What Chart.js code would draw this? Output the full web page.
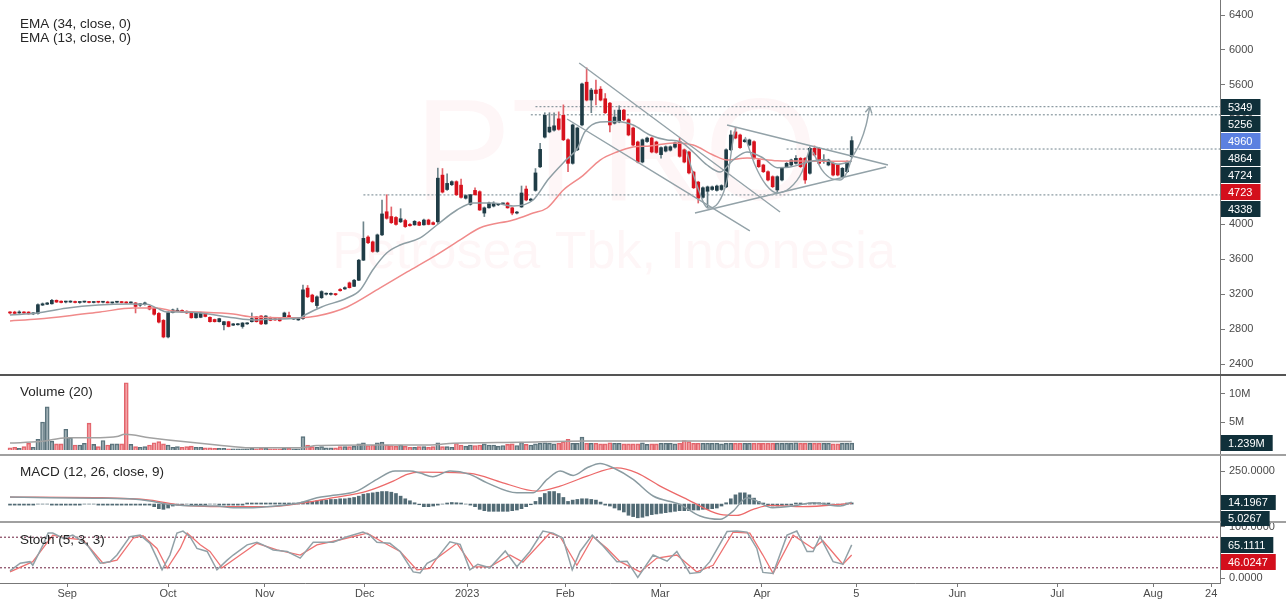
<!DOCTYPE html>
<html>
<head>
<meta charset="utf-8">
<title>PTRO - Petrosea Tbk</title>
<script src="https://cdn.jsdelivr.net/npm/chart.js@4.4.1/dist/chart.umd.min.js"></script>
<style>
    html, body { margin: 0; padding: 0; background: #fff; }
    #chart { display: block; }
</style>
</head>
<body>
<canvas id="chart" width="1286" height="600"></canvas>
<script>
// daily candles, index 0 = mid Aug 2022, index 181 = early May 2023
const opens = [
    2990, 2995, 2985, 2990, 2995, 2975, 2980, 3075, 3085, 3090,
    3130, 3120, 3110, 3110, 3115, 3105, 3110, 3112, 3105, 3110,
    3108, 3110, 3100, 3108, 3110, 3108, 3100, 3100, 3075, 3080,
    3060, 3040, 2980, 2900, 2710, 2990, 3005, 3015, 3005, 2985,
    2930, 2935, 2985, 2935, 2910, 2885, 2850, 2885, 2845, 2850,
    2830, 2860, 2885, 2940, 2950, 2860, 2935, 2920, 2920, 2930,
    2955, 2915, 2905, 2920, 3270, 3190, 3070, 3160, 3200, 3198,
    3200, 3255, 3260, 3330, 3290, 3360, 3590, 3855, 3800, 3690,
    3880, 4145, 4090, 4080, 4030, 4045, 4000, 3995, 4025, 3995,
    4050, 4020, 4030, 4565, 4400, 4455, 4490, 4450, 4300, 4230,
    4390, 4375, 4130, 4190, 4210, 4225, 4235, 4245, 4190, 4130,
    4200, 4405, 4275, 4390, 4660, 5000, 5060, 5080, 5210, 5250,
    4970, 4700, 4855, 5140, 5630, 5425, 5540, 5550, 5440, 5390,
    5160, 5175, 5310, 5200, 5105, 4945, 4715, 4950, 4990, 4945,
    4800, 4840, 4850, 4885, 4950, 4855, 4830, 4600, 4485, 4310,
    4380, 4400, 4390, 4400, 4430, 4855, 5060, 5025, 4948, 4910,
    4948, 4738, 4681, 4604, 4547, 4395, 4509, 4662, 4681, 4700,
    4757, 4757, 4586, 4872, 4872, 4719, 4681, 4700, 4681, 4547,
    4604, 4776
];
const highs = [
    3000, 3005, 3010, 3000, 3000, 2990, 3090, 3100, 3105, 3140,
    3135, 3125, 3120, 3125, 3120, 3115, 3120, 3118, 3115, 3115,
    3115, 3120, 3110, 3115, 3118, 3115, 3112, 3105, 3095, 3110,
    3070, 3045, 2990, 2910, 3000, 3030, 3040, 3020, 3010, 2990,
    2990, 2995, 2990, 2940, 2915, 2925, 2890, 2890, 2865, 2865,
    2875, 2875, 2985, 2945, 2955, 2955, 2940, 2925, 2925, 2995,
    2995, 2930, 2925, 3306, 3300, 3200, 3180, 3240, 3215, 3215,
    3210, 3265, 3285, 3340, 3370, 3600, 4030, 3870, 3810, 3890,
    4280, 4340, 4200, 4090, 4180, 4060, 4010, 4045, 4035, 4060,
    4060, 4030, 4645, 4640, 4580, 4500, 4500, 4520, 4340, 4345,
    4420, 4385, 4200, 4255, 4260, 4240, 4245, 4255, 4195, 4150,
    4440, 4440, 4300, 4640, 4930, 5280, 5280, 5280, 5290, 5370,
    4980, 5150, 5115, 5620, 5795, 5560, 5655, 5580, 5500, 5400,
    5310, 5360, 5320, 5210, 5115, 4955, 4980, 5000, 5000, 4955,
    4890, 4900, 4900, 4945, 4990, 4865, 4840, 4610, 4495, 4430,
    4440, 4440, 4450, 4455, 4865, 5075, 5110, 5035, 4980, 4978,
    4958, 4748, 4690, 4614, 4557, 4557, 4653, 4710, 4748, 4790,
    4767, 4767, 4890, 4900, 4882, 4800, 4748, 4710, 4691, 4653,
    4729, 5006
];
const lows = [
    2975, 2975, 2980, 2980, 2970, 2965, 2970, 3070, 3080, 3085,
    3105, 3100, 3100, 3105, 3100, 3095, 3105, 3100, 3100, 3100,
    3100, 3100, 3095, 3100, 3100, 3095, 3095, 2985, 3060, 3075,
    3020, 2960, 2870, 2700, 2700, 2985, 3000, 2990, 2980, 2925,
    2925, 2930, 2940, 2880, 2880, 2880, 2790, 2825, 2840, 2845,
    2810, 2855, 2880, 2880, 2850, 2855, 2895, 2900, 2890, 2925,
    2925, 2910, 2900, 2910, 3160, 3105, 3040, 3150, 3190, 3190,
    3185, 3235, 3255, 3270, 3285, 3355, 3585, 3780, 3680, 3680,
    3870, 4060, 4010, 3990, 4020, 3965, 3980, 3990, 3985, 3990,
    3995, 3995, 4010, 4360, 4390, 4445, 4330, 4300, 4290, 4220,
    4335, 4160, 4090, 4185, 4200, 4215, 4225, 4185, 4110, 4120,
    4195, 4270, 4265, 4380, 4650, 4990, 5050, 5070, 5080, 4960,
    4605, 4690, 4845, 5130, 5415, 5280, 5370, 5415, 5270, 5060,
    5150, 5165, 5190, 5015, 4900, 4705, 4705, 4940, 4820, 4815,
    4760, 4830, 4840, 4875, 4770, 4705, 4580, 4410, 4245, 4300,
    4190, 4390, 4380, 4390, 4420, 4845, 4980, 4870, 4940, 4900,
    4748, 4652, 4594, 4499, 4422, 4360, 4499, 4652, 4671, 4690,
    4652, 4470, 4576, 4786, 4690, 4700, 4671, 4556, 4556, 4537,
    4594, 4760
];
const closes = [
    2985, 2980, 2990, 2985, 2975, 2980, 3080, 3090, 3100, 3130,
    3110, 3105, 3112, 3115, 3105, 3110, 3112, 3105, 3110, 3108,
    3112, 3100, 3108, 3110, 3104, 3100, 3105, 3060, 3090, 3100,
    3030, 2970, 2880, 2710, 2990, 3020, 3015, 2995, 2985, 2930,
    2985, 2990, 2945, 2885, 2885, 2920, 2885, 2830, 2860, 2860,
    2870, 2870, 2920, 2885, 2860, 2950, 2900, 2905, 2895, 2985,
    2930, 2925, 2920, 3250, 3170, 3115, 3170, 3230, 3205, 3202,
    3195, 3240, 3275, 3275, 3360, 3590, 3840, 3790, 3690, 3880,
    4120, 4070, 4020, 4000, 4065, 3975, 3985, 4035, 3990, 4050,
    4000, 4000, 4530, 4370, 4470, 4490, 4340, 4310, 4330, 4340,
    4340, 4165, 4190, 4245, 4240, 4230, 4238, 4190, 4130, 4140,
    4360, 4280, 4290, 4590, 4860, 5250, 5115, 5130, 5090, 4970,
    4700, 5140, 5105, 5610, 5425, 5540, 5500, 5425, 5280, 5140,
    5230, 5310, 5200, 5025, 4910, 4715, 4970, 4990, 4830, 4825,
    4880, 4890, 4890, 4935, 4780, 4715, 4590, 4420, 4300, 4420,
    4430, 4430, 4440, 4445, 4855, 5025, 4990, 4880, 4968, 4968,
    4758, 4662, 4604, 4509, 4432, 4547, 4643, 4700, 4738, 4757,
    4662, 4509, 4872, 4796, 4700, 4738, 4738, 4566, 4566, 4643,
    4719, 4960
];
// volume in millions of shares
const volumesM = [
    0.4, 0.5, 0.3, 0.6, 1.2, 0.5, 1.9, 5.0, 7.7, 1.6,
    1.1, 1.1, 3.7, 2.2, 0.9, 0.9, 1.2, 4.8, 1.0, 0.6,
    1.7, 0.9, 1.1, 1.1, 1.1, 12.0, 1.0, 0.6, 0.5, 0.6,
    0.9, 1.3, 1.5, 1.1, 0.9, 0.5, 0.6, 0.5, 0.6, 0.7,
    0.5, 0.5, 0.4, 0.4, 0.3, 0.3, 0.3, 0.2, 0.2, 0.2,
    0.2, 0.2, 0.3, 0.2, 0.3, 0.3, 0.2, 0.2, 0.2, 0.3,
    0.3, 0.2, 0.2, 2.4, 0.9, 0.6, 0.5, 0.6, 0.4, 0.4,
    0.4, 0.6, 0.6, 0.6, 0.7, 1.1, 1.3, 0.8, 0.9, 1.3,
    1.4, 0.9, 0.8, 0.7, 0.9, 0.7, 0.5, 0.5, 0.6, 0.6,
    0.5, 0.6, 1.3, 0.6, 0.6, 0.5, 1.2, 0.9, 0.7, 0.9,
    0.8, 0.9, 1.1, 0.9, 0.9, 0.7, 0.8, 1.0, 1.1, 0.8,
    1.4, 1.0, 0.9, 1.1, 1.2, 1.3, 1.2, 1.1, 1.2, 1.5,
    1.9, 1.2, 1.2, 2.3, 1.2, 1.2, 1.2, 1.1, 1.1, 1.3,
    1.2, 1.2, 1.1, 1.1, 1.1, 1.1, 1.3, 1.0, 1.1, 1.1,
    1.2, 1.2, 1.2, 1.1, 1.2, 1.7, 1.5, 1.2, 1.2, 1.2,
    1.2, 1.2, 1.2, 1.1, 1.2, 1.2, 1.2, 1.2, 1.2, 1.2,
    1.2, 1.2, 1.2, 1.2, 1.2, 1.2, 1.2, 1.2, 1.2, 1.3,
    1.2, 1.2, 1.2, 1.2, 1.2, 1.2, 1.2, 1.1, 1.1, 1.2,
    1.2, 1.24
];
const macdHist = [
    -8, -8, -8, -8, -8, -8, 0, 0, 0, -8,
    -8, -8, -8, -8, -8, -8, 0, 0, 0, -8,
    -8, -8, -8, -8, -8, -8, -8, -8, -8, -8,
    -8, -20, -35, -40, -30, -15, -8, -8, 0, -8,
    -8, -8, -8, 0, 0, -8, -8, -8, -8, -8,
    -8, 8, 8, 8, 8, 8, 8, 8, 8, 8,
    8, 8, 8, 15, 20, 20, 25, 30, 30, 35,
    35, 40, 40, 45, 50, 60, 75, 80, 85, 90,
    95, 95, 90, 80, 60, 40, 25, 10, -5, -20,
    -20, -15, -8, 0, 8, 12, 10, 8, 0, -8,
    -20, -40, -50, -55, -55, -55, -55, -55, -50, -45,
    -35, -20, -5, 20, 50, 80, 95, 95, 80, 50,
    20, 30, 35, 40, 40, 35, 30, 15, -8, -15,
    -30, -45, -60, -85, -95, -104, -100, -90, -80, -75,
    -70, -65, -60, -55, -50, -50, -50, -45, -45, -40,
    -40, -35, -30, -15, 10, 40, 70, 85, 85, 70,
    45, 20, 8, -8, -15, -15, -10, -8, -8, 8,
    8, 0, 8, 10, 10, 8, 8, 0, -8, 0,
    8, 9
];

// indicator lines, read at (bar index, value)
const ema13Idx = [0, 6, 12, 19, 26, 29.5, 31.6, 33.8, 36, 41, 48, 52.3, 55.3, 62.4, 63.4, 67, 72.5, 75.3, 78, 81, 83.9, 88.2, 91.8, 96.1, 99.6, 103.9, 108.2, 112.5, 115.8, 119.6, 122, 123.6, 126.9, 130.5, 134, 137.6, 141.3, 144, 146.9, 149.9, 152.7, 155.5, 158.5, 162, 165, 168, 172, 175, 178, 181];
const ema13Val = [2962, 2985, 3040, 3077, 3088, 3085, 3040, 2995, 2995, 2985, 2930, 2905, 2912, 2930, 2962, 3054, 3157, 3249, 3478, 3673, 3764, 3845, 3993, 4165, 4245, 4245, 4211, 4280, 4520, 4740, 4870, 5060, 5174, 5180, 5139, 5025, 4968, 4950, 4830, 4681, 4601, 4738, 4830, 4760, 4650, 4660, 4720, 4740, 4690, 4723];
const ema34Idx = [0, 6, 12.3, 19.4, 26.5, 31.6, 35, 41, 48, 52.3, 62.4, 66, 72.5, 79.6, 85.4, 91, 96.8, 101, 108.2, 112.5, 115.5, 119, 123.2, 126.9, 130.5, 134, 137.6, 142.6, 146.9, 151.2, 154.2, 158.5, 165, 172, 181];
const ema34Val = [2893, 2916, 2950, 2996, 3042, 3042, 3008, 2996, 2973, 2939, 2930, 2950, 3054, 3272, 3455, 3627, 3822, 3959, 4051, 4130, 4188, 4395, 4560, 4738, 4830, 4887, 4899, 4933, 4910, 4796, 4738, 4760, 4730, 4725, 4724];
const volMaIdx = [0, 6.5, 12.3, 19.4, 23, 24.7, 30, 37.2, 44.5, 51.6, 62.4, 66, 76.8, 90.3, 95.3, 109.7, 124, 145.6, 181];
const volMaVal = [1.24, 1.5, 2.2, 2.2, 2.4, 2.8, 2.2, 1.5, 0.9, 0.4, 0.4, 0.8, 0.9, 0.9, 1.2, 1.4, 1.6, 1.6, 1.5];
const macdIdx = [0, 8.6, 19.4, 26.5, 30.1, 33.8, 37.2, 44.5, 48, 51.6, 55.3, 62.4, 66, 69.5, 74.6, 78.9, 82.8, 86, 88.2, 90.9, 94.6, 98.9, 102.6, 109, 112.5, 115.5, 118.3, 121.1, 124.1, 126.9, 129.7, 134, 138.3, 144, 148.4, 152.7, 155.5, 158.5, 159.8, 164, 168.4, 172.7, 178.5, 181];
const macdVal = [53, 48, 45, 38, 23, -2, -10, -15, -28, -28, -20, 10, 48, 66, 98, 187, 250, 250, 235, 207, 250, 225, 161, 86, 86, 187, 250, 217, 275, 308, 275, 187, 61, -2, -91, -116, -53, 48, 36, -28, -15, 10, -15, 14];
const signalIdx = [0, 19.4, 30.1, 37.2, 48, 55.3, 62.4, 69.5, 76.8, 82.4, 85.4, 88.2, 98.9, 106, 113.3, 118.3, 124.1, 130.5, 134.8, 139.8, 145.6, 152.7, 156.3, 159.8, 163.4, 170.5, 181];
const signalVal = [53, 48, 30, -10, -20, -20, 5, 48, 98, 174, 225, 242, 232, 161, 98, 136, 212, 275, 237, 136, 36, -78, -86, -40, -10, -20, 5];
const stochKIdx = [0, 2.2, 4.3, 4.9, 7.1, 8.2, 9.2, 11.4, 13.5, 16.6, 19.4, 21.5, 23, 25.8, 28, 30.1, 31.6, 32.7, 34.4, 35.9, 37.2, 38.7, 40.2, 42.4, 44.5, 46.7, 48, 51, 53.1, 54.4, 56.6, 59.6, 62.4, 65.2, 69.5, 72.5, 75.9, 77.4, 78.9, 81.7, 83.9, 86.7, 88.2, 89.7, 91.8, 94.6, 96.8, 98.9, 100.6, 103.2, 106.5, 109, 111.8, 114.6, 116.8, 118.9, 120.9, 122.6, 125.2, 127.3, 130.5, 132.7, 135, 138.3, 141.3, 143.4, 146.2, 148.4, 150.5, 154.2, 156.3, 158.5, 160.6, 161.9, 164.1, 167.1, 169.2, 171.4, 172.7, 174.2, 177, 179.1, 181];
const stochK = [14, 29, 32, 25, 65, 88, 88, 78, 84, 65, 29, 32, 45, 81, 84, 68, 39, 16, 45, 88, 92, 81, 58, 52, 16, 35, 45, 65, 70, 65, 55, 52, 39, 70, 70, 81, 90, 84, 70, 68, 52, 12, 10, 29, 39, 71, 66, 16, 27, 20, 53, 22, 52, 92, 88, 78, 16, 52, 84, 65, 32, 33, 1, 45, 33, 52, 9, 11, 32, 91, 92, 90, 58, 11, 9, 84, 92, 52, 52, 81, 32, 27, 65];
const stochDIdx = [0, 4.9, 9.2, 12.3, 15.7, 20, 23, 26.5, 28.6, 31.6, 33.8, 36.6, 38.1, 40.9, 43, 45.6, 49.5, 53.1, 57.4, 62.4, 66, 71, 76.8, 80.2, 83.9, 87.5, 90.3, 91.8, 96.1, 99.6, 103.2, 107.5, 110.3, 116.1, 118.3, 121.9, 125.4, 128.4, 131.2, 135.5, 139.1, 143.4, 147.7, 151.2, 155.5, 159.1, 161.9, 164.1, 168.4, 172.7, 174.8, 179.1, 181];
const stochD = [12, 32, 84, 78, 75, 29, 35, 78, 83, 58, 19, 58, 88, 65, 52, 20, 45, 68, 55, 45, 65, 75, 88, 70, 52, 16, 19, 39, 68, 22, 22, 45, 31, 88, 81, 25, 81, 58, 32, 12, 39, 45, 12, 25, 90, 88, 45, 9, 84, 58, 73, 27, 45];

// hand drawn studies on the price pane, as [bar index, price]
const channelTop = [[122.4, 5850], [165.6, 4142]];
const channelBottom = [[119.8, 5208], [159.1, 3925]];
const triangleTop = [[154.2, 5139], [188.8, 4681]];
const triangleBottom = [[147.3, 4131], [188.4, 4658]];
const cupOne = [[145.4, 4853], [147.7, 4452], [150.1, 4188], [152.3, 4246], [154.2, 4509], [155.5, 4968], [156.1, 5105]];
const cupTwo = [[158.1, 5002], [160.2, 4681], [162.6, 4452], [165, 4360], [167.7, 4417], [170.3, 4601], [172, 4876]];
const cupThree = [[172.7, 4830], [174.6, 4624], [176.8, 4521], [178.5, 4509], [180, 4601], [181, 4761]];
const breakoutArrow = [[181, 4761], [182.8, 4933], [184.1, 5139], [184.9, 5346]];
const levelPrices = [5349, 5256, 4864, 4338];
const levelStartIdx = [113, 112, 167, 76];
const stochLevels = [80, 20];

// axis ticks and price tags
const dateTickIdx = [12.3, 34, 54.8, 76.3, 98.3, 119.4, 139.8, 161.7, 182, 203.7, 225.2, 245.8, 258.3];
const dateTickLabels = ['Sep', 'Oct', 'Nov', 'Dec', '2023', 'Feb', 'Mar', 'Apr', '5', 'Jun', 'Jul', 'Aug', '24'];
const priceTicks = [2400, 2800, 3200, 3600, 4000, 4400, 4800, 5200, 5600, 6000, 6400];
const volumeTicksM = [5, 10];
const macdTicks = [250];
const stochTicks = [0, 100];
const priceTags = [5349, 5256, 4960, 4864, 4724, 4723, 4338];
const priceTagKinds = ['dark', 'dark', 'last', 'dark', 'dark', 'red', 'dark'];
const volumeTagsM = [1.239];
const macdTags = [14.1967, 5.0267];
const stochTags = [65.1111, 46.0247];
const stochTagKinds = ['dark', 'red'];

(function () {
    'use strict';

    const FONT = '"Liberation Sans", Arial, Helvetica, sans-serif';
    const AXIS_W = 66;
    const X_MIN = -2.15;
    const X_MAX = 260.2;

    Chart.defaults.font.family = FONT;
    Chart.defaults.font.size = 11;
    Chart.defaults.color = '#4a4a4a';

    const tagColors = { dark: '#10303a', last: '#5b80e0', red: '#d30f1c' };
    const up = closes.map((c, i) => c >= opens[i]);

    const pts = (xs, ys) => xs.map((x, k) => ({ x: x, y: ys[k] }));
    const pairs = arr => arr.map(p => ({ x: p[0], y: p[1] }));

    function lineSet(label, data, color, width, axis, order, extra)
    {
        return Object.assign({
            type: 'line',
            label: label,
            data: data,
            yAxisID: axis,
            borderColor: color,
            borderWidth: width,
            pointRadius: 0,
            fill: false,
            order: order
        }, extra || {});
    }

    function fixedAxis(opts)
    {
        return Object.assign({
            type: 'linear',
            position: 'right',
            stack: 'panes',
            offset: false,
            grid: { drawOnChartArea: false, drawTicks: true, tickLength: 5, color: '#777' },
            border: { display: true, color: '#777', width: 1 },
            afterFit: s => {
                s.width = AXIS_W;
                s.paddingTop = 0;
                s.paddingBottom = 0;
            }
        }, opts);
    }

    const drawings = [
        ['channelTop', channelTop], ['channelBottom', channelBottom],
        ['triangleTop', triangleTop], ['triangleBottom', triangleBottom],
        ['cupOne', cupOne], ['cupTwo', cupTwo], ['cupThree', cupThree],
        ['arrow', breakoutArrow]
    ].map(d => lineSet(d[0], pairs(d[1]), '#93a2a8', 1.4, 'y', 1, { cubicInterpolationMode: 'monotone' }));

    const levels = levelPrices.map((p, k) => lineSet('level' + k,
        [{ x: levelStartIdx[k], y: p }, { x: X_MAX, y: p }],
        '#6f828b', 1, 'y', 5, { borderDash: [2, 2] }));

    const stochLevelSets = stochLevels.map((v, k) => lineSet('stochLevel' + k,
        [{ x: X_MIN, y: v }, { x: X_MAX, y: v }],
        '#6d1f3e', 1, 'yStoch', 6, { borderDash: [2, 2] }));

    const datasets = drawings.concat([
        lineSet('EMA 13', pts(ema13Idx, ema13Val), '#8e9ea4', 1.5, 'y', 2, { cubicInterpolationMode: 'monotone' }),
        lineSet('EMA 34', pts(ema34Idx, ema34Val), '#f08a8a', 1.5, 'y', 2, { cubicInterpolationMode: 'monotone' }),
        {
            type: 'bar',
            label: 'body',
            data: opens.map((o, i) => ({ x: i, y: [Math.min(o, closes[i]), Math.max(o, closes[i])] })),
            yAxisID: 'y',
            backgroundColor: up.map(u => u ? '#1f3c46' : '#d7121d'),
            barThickness: 3,
            minBarLength: 1,
            grouped: false,
            order: 3
        },
        {
            type: 'bar',
            label: 'wick',
            data: highs.map((h, i) => ({ x: i, y: [lows[i], h] })),
            yAxisID: 'y',
            backgroundColor: up.map(u => u ? '#6e848b' : '#e2636a'),
            barThickness: 1,
            grouped: false,
            order: 4
        }
    ], levels, [
        lineSet('Volume MA', pts(volMaIdx, volMaVal.map(v => v * 1e6)), '#a2a2a2', 1.5, 'yVol', 2, { cubicInterpolationMode: 'monotone' }),
        {
            type: 'bar',
            label: 'volume',
            data: volumesM.map((v, i) => ({ x: i, y: v * 1e6 })),
            yAxisID: 'yVol',
            backgroundColor: up.map(u => u ? 'rgba(120, 143, 151, 0.65)' : 'rgba(238, 120, 126, 0.65)'),
            borderColor: up.map(u => u ? '#587079' : '#e1646b'),
            borderWidth: 1,
            barThickness: 4,
            grouped: false,
            order: 6
        },
        lineSet('MACD', pts(macdIdx, macdVal), '#8a9ba1', 1.5, 'yMacd', 2, { cubicInterpolationMode: 'monotone' }),
        lineSet('Signal', pts(signalIdx, signalVal), '#ec6a6a', 1.3, 'yMacd', 2, { cubicInterpolationMode: 'monotone' }),
        {
            type: 'bar',
            label: 'histogram',
            data: macdHist.map((v, i) => ({ x: i, y: v })),
            yAxisID: 'yMacd',
            backgroundColor: '#526b75',
            barThickness: 3,
            grouped: false,
            order: 6
        },
        lineSet('%K', pts(stochKIdx, stochK), '#91a1a7', 1.5, 'yStoch', 2),
        lineSet('%D', pts(stochDIdx, stochD), '#ee7272', 1.3, 'yStoch', 2)
    ], stochLevelSets);

    function drawTags(ctx, scale, values, kinds, fmt, step)
    {
        const axisX = scale.left;
        const h = step - 1;
        let prev = -Infinity;
        ctx.font = '11px ' + FONT;
        ctx.textBaseline = 'middle';
        ctx.textAlign = 'left';
        values.forEach((v, k) => {
            let y = scale.getPixelForValue(v);
            if (y < prev + step) {
                y = prev + step;
            }
            prev = y;
            const text = fmt(v);
            const w = ctx.measureText(text).width;
            ctx.fillStyle = tagColors[kinds[k]];
            ctx.fillRect(axisX + 1, Math.round(y - h / 2), w + 15, h);
            ctx.fillStyle = '#ffffff';
            ctx.fillText(text, axisX + 8, Math.round(y) + 0.5);
        });
    }

    const paneDecor = {
        id: 'paneDecor',
        beforeDatasetsDraw(chart) {
            const ctx = chart.ctx;
            ctx.save();
            ctx.fillStyle = 'rgba(226, 46, 64, 0.045)';
            ctx.textAlign = 'center';
            ctx.textBaseline = 'alphabetic';
            ctx.font = '145px ' + FONT;
            ctx.fillText('PTRO', 616, 200);
            ctx.font = '52px ' + FONT;
            ctx.fillText('Petrosea Tbk, Indonesia', 614, 268);
            ctx.restore();
        },
        afterDatasetsDraw(chart) {
            // arrow head on the breakout curve
            const idx = chart.data.datasets.findIndex(d => d.label === 'arrow');
            const pts = chart.getDatasetMeta(idx).data;
            const a = pts[pts.length - 2];
            const b = pts[pts.length - 1];
            const ang = Math.atan2(b.y - a.y, b.x - a.x);
            const ctx = chart.ctx;
            ctx.save();
            ctx.strokeStyle = '#93a2a8';
            ctx.lineWidth = 1.4;
            ctx.beginPath();
            ctx.moveTo(b.x - 7 * Math.cos(ang - 0.5), b.y - 7 * Math.sin(ang - 0.5));
            ctx.lineTo(b.x, b.y);
            ctx.lineTo(b.x - 7 * Math.cos(ang + 0.5), b.y - 7 * Math.sin(ang + 0.5));
            ctx.stroke();
            ctx.restore();
        },
        afterDraw(chart) {
            const ctx = chart.ctx;
            const s = chart.scales;
            const W = chart.width;
            ctx.save();

            // pane separators
            [[s.y.bottom, '#555555'], [s.yVol.bottom, '#a0a0a0'], [s.yMacd.bottom, '#a0a0a0']].forEach(sep => {
                ctx.strokeStyle = sep[1];
                ctx.lineWidth = 2;
                ctx.beginPath();
                ctx.moveTo(0, sep[0]);
                ctx.lineTo(W, sep[0]);
                ctx.stroke();
            });

            // study titles
            ctx.fillStyle = '#262626';
            ctx.font = '13.5px ' + FONT;
            ctx.textBaseline = 'middle';
            ctx.textAlign = 'left';
            ctx.fillText('EMA (34, close, 0)', 20, 24);
            ctx.fillText('EMA (13, close, 0)', 20, 38);
            ctx.fillText('Volume (20)', 20, s.yVol.top + 17);
            ctx.fillText('MACD (12, 26, close, 9)', 20, s.yMacd.top + 17);
            ctx.fillText('Stoch (5, 3, 3)', 20, s.yStoch.top + 18);

            // price tags on the right scale
            drawTags(ctx, s.y, priceTags, priceTagKinds, v => String(v), 17);
            drawTags(ctx, s.yVol, volumeTagsM.map(v => v * 1e6), ['dark'], v => (v / 1e6).toFixed(3) + 'M', 17);
            drawTags(ctx, s.yMacd, macdTags, ['dark', 'dark'], v => v.toFixed(4), 16);
            drawTags(ctx, s.yStoch, stochTags, stochTagKinds, v => v.toFixed(4), 17);
            ctx.restore();
        }
    };

    new Chart(document.getElementById('chart'), {
        type: 'line',
        data: { datasets: datasets },
        options: {
            responsive: false,
            animation: false,
            devicePixelRatio: 1,
            layout: { padding: 0 },
            plugins: {
                legend: { display: false },
                tooltip: { enabled: false }
            },
            scales: {
                x: {
                    type: 'linear',
                    position: 'bottom',
                    min: X_MIN,
                    max: X_MAX,
                    offset: false,
                    afterBuildTicks: s => { s.ticks = dateTickIdx.map(v => ({ value: v })); },
                    afterFit: s => {
                        s.height = 17;
                        s.paddingLeft = 0;
                        s.paddingRight = 0;
                    },
                    grid: { drawOnChartArea: false, tickLength: 4, color: '#777', offset: false },
                    border: { color: '#777' },
                    ticks: {
                        autoSkip: false,
                        maxRotation: 0,
                        padding: 0,
                        color: '#4a4a4a',
                        font: { size: 11 },
                        callback: (v, k) => dateTickLabels[k]
                    }
                },
                y: fixedAxis({
                    weight: 1,
                    stackWeight: 375,
                    min: 2274,
                    max: 6572,
                    afterBuildTicks: s => { s.ticks = priceTicks.map(v => ({ value: v })); },
                    ticks: { padding: 4, callback: v => String(v) }
                }),
                yVol: fixedAxis({
                    weight: 2,
                    stackWeight: 80,
                    min: -0.89e6,
                    max: 13.39e6,
                    afterBuildTicks: s => { s.ticks = volumeTicksM.map(v => ({ value: v * 1e6 })); },
                    ticks: { padding: 4, callback: v => (v / 1e6) + 'M' }
                }),
                yMacd: fixedAxis({
                    weight: 3,
                    stackWeight: 67,
                    min: -136,
                    max: 372,
                    afterBuildTicks: s => { s.ticks = macdTicks.map(v => ({ value: v })); },
                    ticks: { padding: 4, callback: v => v.toFixed(4) }
                }),
                yStoch: fixedAxis({
                    weight: 4,
                    stackWeight: 61,
                    min: -9.8,
                    max: 109.8,
                    afterBuildTicks: s => { s.ticks = stochTicks.map(v => ({ value: v })); },
                    ticks: { padding: 4, callback: v => v.toFixed(4) }
                })
            }
        },
        plugins: [paneDecor]
    });
})();
</script>
</body>
</html>
